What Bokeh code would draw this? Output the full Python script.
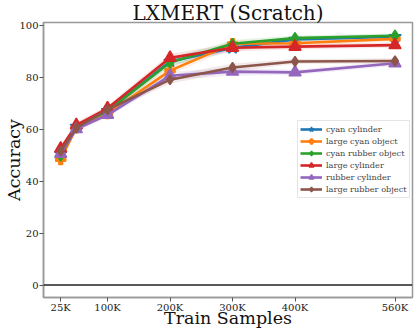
from bokeh.plotting import figure
from bokeh.models import Range1d, FixedTicker, Span, Legend
from bokeh.embed import file_html
from bokeh.resources import INLINE

samples = [25, 50, 100, 200, 300, 400, 560]
tick_vals = [25, 100, 200, 300, 400, 560]
tick_labels = ["25K", "100K", "200K", "300K", "400K", "560K"]
y_ticks = [0, 20, 40, 60, 80, 100]

names = ["cyan cylinder", "large cyan object", "cyan rubber object",
         "large cylinder", "rubber cylinder", "large rubber object"]
cyan_cylinder = [50.5, 61.0, 67.0, 86.0, 91.2, 94.5, 95.5]
large_cyan_object = [48.3, 60.5, 66.0, 82.5, 92.8, 93.0, 94.7]
cyan_rubber_object = [49.8, 61.0, 67.0, 85.6, 92.8, 95.0, 95.9]
large_cylinder = [52.5, 61.5, 68.0, 87.4, 91.3, 91.7, 92.3]
rubber_cylinder = [50.5, 60.0, 65.5, 80.5, 82.1, 81.8, 85.3]
large_rubber_object = [51.5, 60.5, 67.5, 79.0, 83.7, 86.0, 86.2]
spread = [1.5, 1.2, 1.0, 1.6, 1.5, 1.0, 1.0]

series = [cyan_cylinder, large_cyan_object, cyan_rubber_object,
          large_cylinder, rubber_cylinder, large_rubber_object]
colors = ["#1f77b4", "#ff7f0e", "#2ca02c", "#d62728", "#9467bd", "#8c564b"]
markers = ["star", "plus", "diamond", "triangle", "triangle", "diamond"]
msizes = [13, 10, 11, 12, 12, 10]

FONT = "DejaVu Serif"

p = figure(width=415, height=331, output_backend="svg", toolbar_location=None,
           x_range=Range1d(-2.5, 588), y_range=Range1d(-4.8, 101),
           min_border_left=43, min_border_right=3, min_border_top=22,
           min_border_bottom=34)

p.title.text = "LXMERT (Scratch)"
p.title.text_font = FONT
p.title.text_font_size = "20px"
p.title.text_font_style = "normal"
p.title.text_color = "#111111"
p.title.align = "center"
p.title.standoff = -5
p.title.offset = 0

p.xgrid.visible = False
p.ygrid.visible = False
p.outline_line_color = "#999999"
p.outline_line_width = 1.5

p.xaxis.ticker = FixedTicker(ticks=tick_vals)
p.xaxis.major_label_overrides = {v: l for v, l in zip(tick_vals, tick_labels)}
p.yaxis.ticker = FixedTicker(ticks=y_ticks)
for ax in (p.xaxis, p.yaxis):
    ax.axis_line_color = "#999999"
    ax.axis_line_width = 1.5
    ax.major_tick_line_color = "#555555"
    ax.major_tick_out = 4
    ax.major_tick_in = 0
    ax.minor_tick_line_color = None
    ax.major_label_text_font = FONT
    ax.major_label_text_font_size = "10px"
    ax.major_label_text_color = "#222222"
    ax.axis_label_text_font = FONT
    ax.axis_label_text_font_size = "17.5px"
    ax.axis_label_text_font_style = "normal"
    ax.axis_label_text_color = "#111111"
p.xaxis.axis_label = "Train Samples"
p.yaxis.axis_label = "Accuracy"
p.xaxis.major_label_standoff = 0
p.yaxis.major_label_standoff = 1
p.xaxis.axis_label_standoff = -8
p.yaxis.axis_label_standoff = -8

p.add_layout(Span(location=0, dimension="width", line_color="#222222", line_width=1.3))

items = []
for name, ys, c in zip(names, series, colors):
    lo = [y - d for y, d in zip(ys, spread)]
    hi = [y + d for y, d in zip(ys, spread)]
    p.varea(x=samples, y1=lo, y2=hi, fill_color=c, fill_alpha=0.12)
for name, ys, c, m, s in zip(names, series, colors, markers, msizes):
    r1 = p.line(samples, ys, line_color=c, line_width=2.6)
    r2 = p.scatter(samples, ys, marker=m, size=s, fill_color=c, line_color=c, line_width=1.5)
    items.append((name, [r1, r2]))

legend = Legend(items=items, location=(254, 99))
legend.label_text_font = FONT
legend.label_text_font_size = "8.2px"
legend.label_height = 12
legend.glyph_height = 12
legend.glyph_width = 22
legend.spacing = 0
legend.padding = 2
legend.margin = 0
legend.label_standoff = 4
legend.border_line_color = "#cccccc"
legend.border_line_width = 1
legend.background_fill_alpha = 0.9
p.add_layout(legend)

open("out.html", "w").write(file_html(p, INLINE))
